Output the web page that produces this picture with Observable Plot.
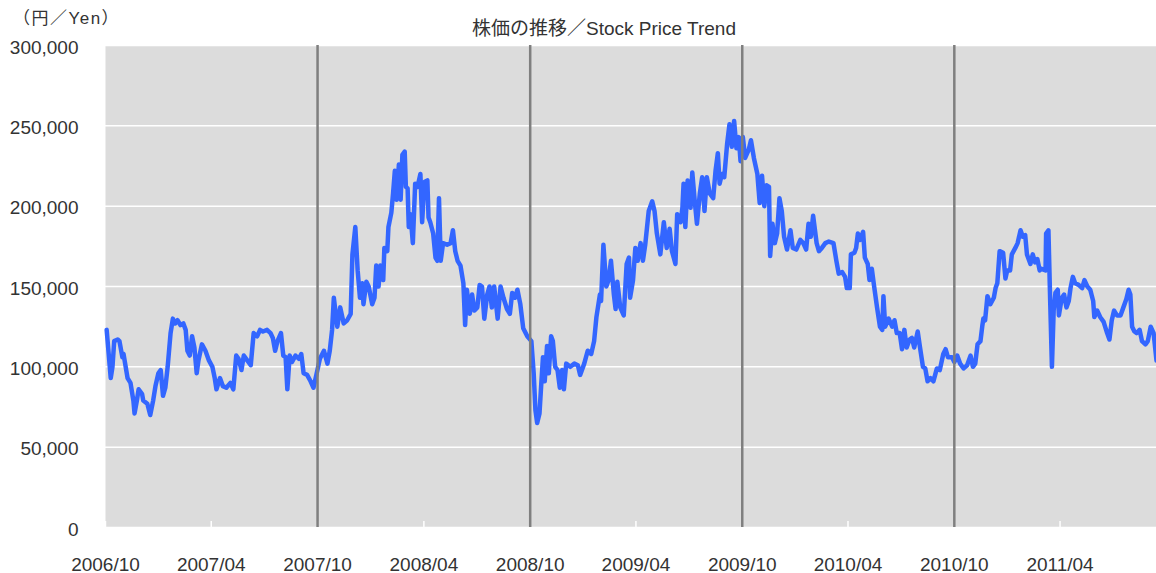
<!DOCTYPE html>
<html>
<head>
<meta charset="utf-8">
<script src="https://cdn.jsdelivr.net/npm/d3@7"></script>
<script src="https://cdn.jsdelivr.net/npm/@observablehq/plot@0.6"></script>
<style>
  html, body { margin: 0; padding: 0; background: #ffffff; }
  #chart { width: 1156px; height: 573px; }
</style>
</head>
<body>
<div id="chart"></div>
<script>
// ---- Data ----
const title = "株価の推移／Stock Price Trend";
const unitLabel = "（円／Yen）";

const dates = [
  "2006-10-03","2006-10-10","2006-10-13","2006-10-16","2006-10-22","2006-10-25","2006-10-30",
  "2006-11-01","2006-11-08","2006-11-13","2006-11-18","2006-11-20","2006-11-24","2006-11-27",
  "2006-12-03","2006-12-05","2006-12-12","2006-12-17","2006-12-22","2006-12-26","2006-12-31",
  "2007-01-04","2007-01-08","2007-01-12","2007-01-16","2007-01-21","2007-01-25","2007-01-29",
  "2007-02-02","2007-02-07","2007-02-12","2007-02-16","2007-02-19","2007-02-23","2007-02-27",
  "2007-03-03","2007-03-07","2007-03-10","2007-03-16","2007-03-22","2007-03-28",
  "2007-04-03","2007-04-07","2007-04-10","2007-04-16","2007-04-21","2007-04-27",
  "2007-05-04","2007-05-09","2007-05-14","2007-05-18","2007-05-23","2007-05-27",
  "2007-06-02","2007-06-08","2007-06-13","2007-06-19","2007-06-24","2007-06-29",
  "2007-07-06","2007-07-12","2007-07-16","2007-07-20","2007-07-24","2007-07-30",
  "2007-08-03","2007-08-07","2007-08-10","2007-08-14","2007-08-18","2007-08-24","2007-08-30",
  "2007-09-03","2007-09-07","2007-09-13","2007-09-19","2007-09-24","2007-09-29",
  "2007-10-05","2007-10-12","2007-10-18","2007-10-22","2007-10-26","2007-10-29",
  "2007-11-04","2007-11-09","2007-11-15","2007-11-21","2007-11-27","2007-11-30",
  "2007-12-05","2007-12-09","2007-12-13","2007-12-17","2007-12-19","2007-12-24","2007-12-28",
  "2008-01-03","2008-01-07","2008-01-10","2008-01-14","2008-01-17","2008-01-22","2008-01-24","2008-01-29","2008-01-31",
  "2008-02-05","2008-02-08","2008-02-11","2008-02-14","2008-02-18","2008-02-21","2008-02-24","2008-02-28",
  "2008-03-01","2008-03-04","2008-03-06","2008-03-09","2008-03-13","2008-03-17","2008-03-21","2008-03-26","2008-03-29",
  "2008-04-02","2008-04-07","2008-04-09","2008-04-12","2008-04-17","2008-04-21","2008-04-24","2008-04-27","2008-04-30",
  "2008-05-04","2008-05-11","2008-05-17","2008-05-21","2008-05-25","2008-05-29",
  "2008-06-03","2008-06-08","2008-06-11","2008-06-14","2008-06-19","2008-06-23","2008-06-27",
  "2008-07-02","2008-07-06","2008-07-10","2008-07-14","2008-07-19","2008-07-23","2008-07-27","2008-07-31",
  "2008-08-06","2008-08-11","2008-08-16","2008-08-22","2008-08-27","2008-08-31",
  "2008-09-05","2008-09-09","2008-09-14","2008-09-19","2008-09-26",
  "2008-10-03","2008-10-07","2008-10-10","2008-10-13","2008-10-17","2008-10-20","2008-10-23","2008-10-26","2008-10-30",
  "2008-11-02","2008-11-06","2008-11-09","2008-11-13","2008-11-17","2008-11-21","2008-11-25","2008-11-28",
  "2008-12-02","2008-12-09","2008-12-16","2008-12-22","2008-12-26",
  "2009-01-02","2009-01-08","2009-01-14","2009-01-19","2009-01-23","2009-01-29","2009-01-31",
  "2009-02-04","2009-02-09","2009-02-13","2009-02-17","2009-02-22","2009-02-25","2009-02-28",
  "2009-03-05","2009-03-11","2009-03-16","2009-03-20","2009-03-22","2009-03-27","2009-03-31",
  "2009-04-04","2009-04-09","2009-04-13","2009-04-17","2009-04-23","2009-04-29",
  "2009-05-03","2009-05-07","2009-05-13","2009-05-19","2009-05-24","2009-05-29",
  "2009-06-02","2009-06-08","2009-06-11","2009-06-17","2009-06-20","2009-06-22","2009-06-25","2009-06-29",
  "2009-07-04","2009-07-07","2009-07-11","2009-07-15","2009-07-20","2009-07-24","2009-07-28",
  "2009-08-01","2009-08-06","2009-08-12","2009-08-16","2009-08-20","2009-08-23","2009-08-27","2009-08-31",
  "2009-09-05","2009-09-09","2009-09-13","2009-09-17","2009-09-21","2009-09-25","2009-09-28",
  "2009-10-02","2009-10-06","2009-10-12","2009-10-16","2009-10-21","2009-10-27","2009-10-31",
  "2009-11-04","2009-11-08","2009-11-12","2009-11-16","2009-11-18","2009-11-22","2009-11-26","2009-11-30",
  "2009-12-04","2009-12-08","2009-12-12","2009-12-17","2009-12-23","2009-12-27",
  "2010-01-02","2010-01-09","2010-01-14","2010-01-19","2010-01-23","2010-01-27","2010-01-31",
  "2010-02-06","2010-02-10","2010-02-15","2010-02-21","2010-02-27",
  "2010-03-07","2010-03-12","2010-03-16","2010-03-22","2010-03-27","2010-03-30",
  "2010-04-04","2010-04-06","2010-04-12","2010-04-15","2010-04-18","2010-04-22","2010-04-27","2010-04-30",
  "2010-05-05","2010-05-08","2010-05-12","2010-05-16","2010-05-21","2010-05-26","2010-05-30",
  "2010-06-01","2010-06-04","2010-06-10","2010-06-16","2010-06-20","2010-06-24","2010-06-29",
  "2010-07-03","2010-07-07","2010-07-11","2010-07-16","2010-07-20","2010-07-24","2010-07-30",
  "2010-08-03","2010-08-08","2010-08-12","2010-08-16","2010-08-21","2010-08-26",
  "2010-09-01","2010-09-06","2010-09-12","2010-09-16","2010-09-20","2010-09-27",
  "2010-10-01","2010-10-06","2010-10-11","2010-10-17","2010-10-23","2010-10-29",
  "2010-11-02","2010-11-06","2010-11-10","2010-11-15","2010-11-18","2010-11-20","2010-11-23","2010-11-27",
  "2010-12-02","2010-12-08","2010-12-11","2010-12-14","2010-12-18","2010-12-24","2010-12-28","2010-12-31",
  "2011-01-05","2011-01-08","2011-01-14","2011-01-18","2011-01-23","2011-01-27","2011-01-31",
  "2011-02-03","2011-02-09","2011-02-13","2011-02-17","2011-02-21","2011-02-25","2011-02-28",
  "2011-03-07","2011-03-08","2011-03-12","2011-03-15","2011-03-18","2011-03-21","2011-03-24","2011-03-28","2011-03-30",
  "2011-04-04","2011-04-08","2011-04-12","2011-04-16","2011-04-19","2011-04-23","2011-04-27",
  "2011-05-03","2011-05-09","2011-05-13","2011-05-18","2011-05-23","2011-05-28","2011-05-30",
  "2011-06-04","2011-06-09","2011-06-15","2011-06-21","2011-06-25","2011-06-29",
  "2011-07-03","2011-07-08","2011-07-14","2011-07-19","2011-07-24","2011-07-28","2011-07-31",
  "2011-08-03","2011-08-07","2011-08-11","2011-08-16","2011-08-20","2011-08-26","2011-08-30",
  "2011-09-04","2011-09-09","2011-09-14"
];

const prices = [
  123000,93000,100000,116000,117000,116000,106000,
  108000,93000,90000,79000,71000,79000,86000,
  83000,79000,77000,70000,79000,88000,96000,
  98000,82000,87000,100000,121000,130000,127000,
  129000,126000,127000,123000,110000,107000,119000,
  112000,96000,104000,114000,110000,104000,
  100000,93000,86000,93000,88000,87000,
  90000,86000,107000,105000,98000,107000,
  104000,101000,121000,119000,123000,122000,
  123000,121000,118000,110000,116000,121000,
  107000,106000,86000,107000,103000,107000,105000,
  108000,96000,95000,91000,87000,95000,
  105000,110000,102000,110000,123000,143000,
  125000,137000,127000,129000,133000,170000,
  187000,160000,143000,152000,139000,153000,150000,
  139000,143000,163000,150000,163000,154000,174000,172000,187000,
  196000,208000,222000,204000,226000,204000,232000,234000,
  212000,211000,187000,195000,177000,214000,212000,220000,190000,
  215000,216000,193000,190000,183000,168000,166000,205000,166000,
  177000,176000,177000,185000,172000,166000,
  163000,152000,126000,148000,133000,145000,135000,
  137000,151000,150000,130000,145000,150000,137000,150000,
  130000,150000,143000,136000,133000,146000,
  143000,148000,139000,124000,119000,
  116000,96000,73000,65000,71000,89000,106000,91000,113000,
  96000,119000,116000,100000,98000,87000,98000,86000,
  102000,100000,102000,101000,95000,
  102000,110000,108000,116000,131000,145000,141000,
  176000,150000,154000,166000,145000,136000,153000,
  137000,132000,164000,168000,143000,154000,174000,
  166000,177000,166000,176000,197000,203000,
  197000,183000,170000,190000,174000,186000,
  172000,164000,195000,190000,199000,214000,187000,216000,
  199000,221000,204000,189000,208000,218000,197000,
  218000,208000,205000,222000,233000,214000,220000,218000,
  239000,251000,237000,253000,236000,243000,228000,
  243000,230000,235000,241000,230000,220000,202000,
  219000,200000,213000,212000,169000,189000,177000,183000,
  205000,197000,181000,173000,185000,174000,
  173000,179000,177000,173000,189000,181000,194000,
  177000,172000,174000,177000,178000,
  177000,166000,158000,159000,156000,149000,
  149000,170000,171000,174000,183000,179000,184000,168000,
  164000,154000,161000,150000,137000,125000,123000,
  144000,125000,130000,125000,129000,121000,121000,
  111000,123000,112000,117000,118000,112000,122000,
  112000,100000,99000,91000,93000,91000,
  99000,98000,108000,111000,106000,106000,
  103000,107000,102000,99000,101000,107000,
  100000,102000,114000,116000,125000,130000,129000,144000,
  139000,143000,149000,152000,172000,171000,155000,160000,
  160000,170000,174000,177000,185000,181000,182000,
  170000,164000,170000,165000,167000,160000,161000,
  160000,183000,185000,141000,100000,135000,146000,148000,132000,
  143000,145000,137000,141000,149000,156000,152000,
  151000,149000,154000,150000,148000,141000,131000,
  135000,131000,128000,121000,117000,129000,
  135000,132000,132000,137000,142000,148000,145000,
  125000,122000,121000,123000,116000,114000,116000,
  125000,121000,104000
];

const xDomain = ["2006-10-01", "2011-09-14"];
const xTickDates = ["2006-10-01","2007-04-01","2007-10-01","2008-04-01","2008-10-01","2009-04-01","2009-10-01","2010-04-01","2010-10-01","2011-04-01"];
const xTickLabels = ["2006/10","2007/04","2007/10","2008/04","2008/10","2009/04","2009/10","2010/04","2010/10","2011/04"];
const dividerDates = ["2007-10-01","2008-10-01","2009-10-01","2010-10-01"];
const yTicks = [0, 50000, 100000, 150000, 200000, 250000, 300000];
const yTickLabels = ["0","50,000","100,000","150,000","200,000","250,000","300,000"];

// ---- Build ----
const data = dates.map((d, i) => ({date: new Date(d), price: prices[i]}));
const xTicks = xTickDates.map(d => new Date(d));
const xLabelOf = new Map(xTickDates.map((d, i) => [+new Date(d), xTickLabels[i]]));
const yLabelOf = new Map(yTicks.map((v, i) => [v, yTickLabels[i]]));
const dividers = dividerDates.map(d => new Date(d));
const fontStack = "'Liberation Sans', Arial, 'Noto Sans CJK JP', sans-serif";

const chart = Plot.plot({
  width: 1156,
  height: 573,
  marginLeft: 105,
  marginRight: 0,
  marginTop: 45,
  marginBottom: 46,
  style: {fontFamily: fontStack, fontSize: "19px", color: "#333333", background: "#ffffff", overflow: "visible"},
  x: {type: "utc", domain: xDomain.map(d => new Date(d)), label: null},
  y: {domain: [0, 300000], label: null},
  marks: [
    Plot.frame({fill: "#dcdcdc", stroke: "none"}),
    Plot.gridY(yTicks, {stroke: "#ffffff", strokeOpacity: 1, strokeWidth: 1.5}),
    Plot.ruleX(xTicks, {stroke: "#ffffff", strokeWidth: 1.5, insetTop: 476}),
    Plot.lineY(data, {x: "date", y: "price", stroke: "#3366ff", strokeWidth: 4.5, strokeLinejoin: "round", strokeLinecap: "round"}),
    Plot.ruleX(dividers, {stroke: "#7f7f7f", strokeWidth: 2.5}),
    Plot.axisY(yTicks, {tickSize: 0, tickPadding: 27, tickFormat: v => yLabelOf.get(v), fontSize: 19, fill: "#333333", dy: 2, label: null}),
    Plot.axisX(xTicks, {tickSize: 0, tickPadding: 30, tickFormat: d => xLabelOf.get(+d), fontSize: 19, fill: "#333333", label: null}),
    Plot.text([title], {frameAnchor: "top", lineAnchor: "middle", dx: -27, dy: -17, fontSize: 19, fill: "#333333"}),
    Plot.text([unitLabel], {frameAnchor: "top-left", lineAnchor: "middle", dx: -39, dy: -27, fontSize: 17, fill: "#333333", textAnchor: "middle"})
  ]
});

// widen the unit label's letter spacing like the reference
d3.select(chart).selectAll("text").filter(function() { return this.textContent === unitLabel; })
  .style("letter-spacing", "1.5px");

document.getElementById("chart").appendChild(chart);
</script>
</body>
</html>
